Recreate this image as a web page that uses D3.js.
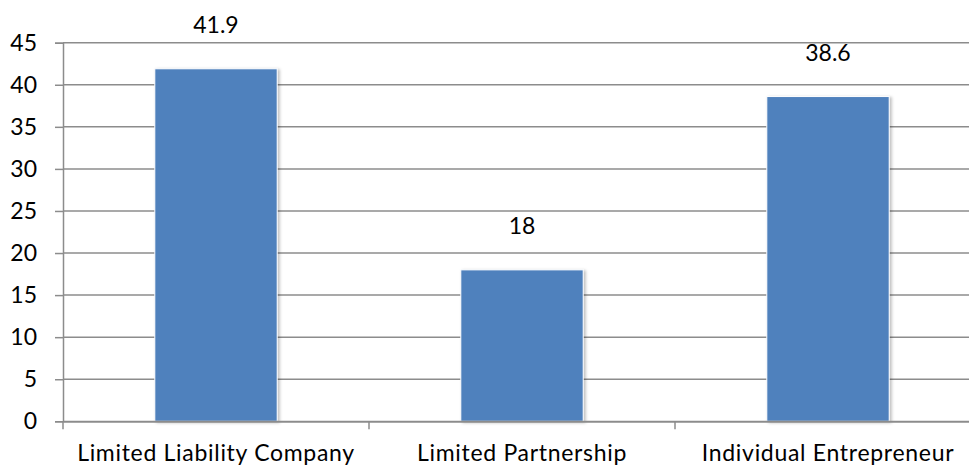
<!DOCTYPE html>
<html>
<head>
<meta charset="utf-8">
<script src="https://cdn.jsdelivr.net/npm/d3@7"></script>
<style>
  body { margin: 0; background: #fff; }
  text { font-family: Lato, sans-serif; fill: #000; }
</style>
</head>
<body>
<div id="chart"></div>
<script>
const categories = ['Limited Liability Company', 'Limited Partnership', 'Individual Entrepreneur'];
const values = [41.9, 18, 38.6];
const yTicks = [0, 5, 10, 15, 20, 25, 30, 35, 40, 45];

const FONT = 23;

var margin = {top: 42.7, right: -12, bottom: 45.7, left: 63},
    width = 969 - margin.left - margin.right,
    height = 467 - margin.top - margin.bottom;

const svg = d3.select('#chart')
    .append('svg')
    .attr('width', 969)
    .attr('height', 467);

const defs = svg.append('defs');
const shadow = defs.append('filter')
    .attr('id', 'shadow')
    .attr('x', '-10%').attr('y', '-10%')
    .attr('width', '130%').attr('height', '130%');
shadow.append('feDropShadow')
    .attr('dx', 2).attr('dy', 1)
    .attr('stdDeviation', 1.5)
    .attr('flood-color', '#000')
    .attr('flood-opacity', 0.25);

const g = svg.append('g')
    .attr('transform', 'translate(' + margin.left + ',' + margin.top + ')');

const xScale = d3.scaleBand()
    .domain(categories)
    .range([0, width])
    .paddingInner(0.6)
    .paddingOuter(0.3);

const yScale = d3.scaleLinear()
    .domain([0, 45])
    .range([height, 0]);

// gridlines
g.append('g')
    .attr('class', 'grid')
    .selectAll('line')
    .data(yTicks.filter(d => d > 0))
    .join('line')
    .attr('x1', 0)
    .attr('x2', width)
    .attr('y1', d => yScale(d))
    .attr('y2', d => yScale(d))
    .attr('stroke', '#8c8c8c')
    .attr('stroke-width', 1.5);

// y axis
const yAxis = d3.axisLeft(yScale)
    .tickValues(yTicks)
    .tickSize(8)
    .tickPadding(18);

g.append('g')
    .attr('class', 'y-axis')
    .call(yAxis)
    .call(s => s.select('.domain').attr('stroke', '#8c8c8c').attr('stroke-width', 1.5))
    .call(s => s.selectAll('.tick line').attr('stroke', '#8c8c8c').attr('stroke-width', 1.5))
    .call(s => s.selectAll('.tick text').attr('font-size', FONT).style('font-family', 'Lato, sans-serif').attr('fill', '#000'));

// bars
g.selectAll('.bar')
    .data(values)
    .join('rect')
    .attr('class', 'bar')
    .attr('x', (d, i) => xScale(categories[i]))
    .attr('width', xScale.bandwidth())
    .attr('y', d => yScale(d))
    .attr('height', d => height - yScale(d))
    .attr('fill', '#4f81bd')
    .attr('stroke', '#fff')
    .attr('stroke-width', 1)
    .attr('filter', 'url(#shadow)');

// x axis
const xAxis = d3.axisBottom(xScale)
    .tickSize(0)
    .tickPadding(23);

const xg = g.append('g')
    .attr('class', 'x-axis')
    .attr('transform', 'translate(0,' + height + ')')
    .call(xAxis)
    .call(s => s.select('.domain').attr('stroke', '#8c8c8c').attr('stroke-width', 2))
    .call(s => s.selectAll('.tick text')
        .attr('font-size', FONT)
        .style('font-family', 'Lato, sans-serif')
        .style('letter-spacing', '0.7px')
        .attr('fill', '#000'));

// category boundary ticks
xg.selectAll('.sep')
    .data(d3.range(categories.length + 1))
    .join('line')
    .attr('class', 'sep')
    .attr('x1', i => i * width / categories.length)
    .attr('x2', i => i * width / categories.length)
    .attr('y1', 0)
    .attr('y2', 8)
    .attr('stroke', '#8c8c8c')
    .attr('stroke-width', 1.5);

// value labels
g.selectAll('.label')
    .data(values)
    .join('text')
    .attr('class', 'label')
    .attr('x', (d, i) => xScale(categories[i]) + xScale.bandwidth() / 2)
    .attr('y', d => yScale(d) - 36)
    .attr('text-anchor', 'middle')
    .attr('font-size', FONT)
    .text(d => d);
</script>
</body>
</html>
